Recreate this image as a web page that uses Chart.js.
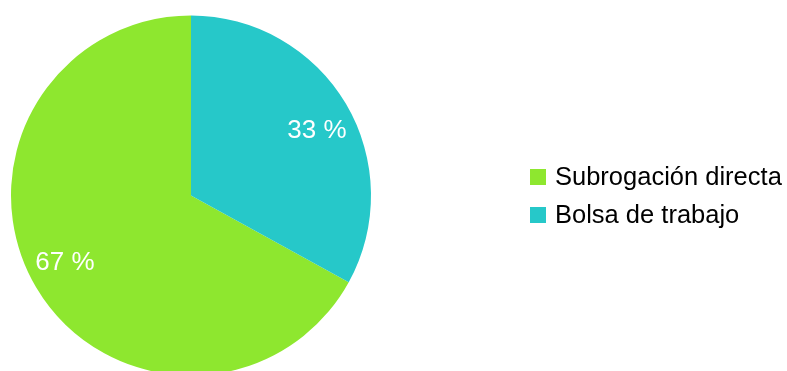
<!DOCTYPE html>
<html>
<head>
<meta charset="utf-8">
<script src="https://cdn.jsdelivr.net/npm/chart.js@4/dist/chart.umd.min.js"></script>
<style>
  html, body { margin: 0; padding: 0; background: #ffffff; overflow: hidden; }
  #wrap { position: relative; width: 787px; height: 371px; }
</style>
</head>
<body>
<div id="wrap"><canvas id="pie"></canvas></div>
<script>
// Share of hires by route (legend order)
const categories = ['Subrogación directa', 'Bolsa de trabajo'];
const shares = [67, 33];
const sliceColors = ['#8ee72f', '#26c8c9'];

const FONT = '"Liberation Sans", Arial, sans-serif';
const total = shares.reduce((a, b) => a + b, 0);

// White percentage labels placed along each slice's mid angle
const sliceLabels = {
  id: 'sliceLabels',
  afterDatasetsDraw(chart) {
    const ctx = chart.ctx;
    const meta = chart.getDatasetMeta(0);
    const data = chart.data.datasets[0].data;
    ctx.save();
    ctx.font = '26px ' + FONT;
    ctx.fillStyle = '#ffffff';
    ctx.textAlign = 'center';
    ctx.textBaseline = 'middle';
    meta.data.forEach((arc, i) => {
      const p = arc.getProps(['x', 'y', 'startAngle', 'endAngle', 'outerRadius'], true);
      const mid = (p.startAngle + p.endAngle) / 2 + 0.052;
      const r = p.outerRadius * 0.79;
      ctx.fillText(data[i] + ' %', p.x + Math.cos(mid) * r, p.y + Math.sin(mid) * r + 1);
    });
    ctx.restore();
  }
};

// Legend drawn to the right of the pie
const sideLegend = {
  id: 'sideLegend',
  afterDraw(chart) {
    const ctx = chart.ctx;
    const labels = chart.data.labels;
    const colors = chart.data.datasets[0].backgroundColor;
    const x0 = 530, box = 16, rowH = 38, top = 177;
    ctx.save();
    ctx.font = '25.5px ' + FONT;
    ctx.textAlign = 'left';
    ctx.textBaseline = 'middle';
    labels.forEach((lab, i) => {
      const cy = top + i * rowH;
      ctx.fillStyle = colors[i];
      ctx.fillRect(x0, cy - box / 2, box, box);
      ctx.fillStyle = '#000000';
      ctx.fillText(lab, x0 + box + 9, cy + 1);
    });
    ctx.restore();
  }
};

new Chart(document.getElementById('pie'), {
  type: 'pie',
  data: {
    labels: categories,
    datasets: [{
      data: shares,
      backgroundColor: sliceColors,
      borderWidth: 0,
      hoverOffset: 0
    }]
  },
  options: {
    responsive: true,
    maintainAspectRatio: false,
    animation: false,
    // first slice ends at 12 o'clock, second one starts there
    rotation: -shares[0] / total * 360,
    radius: 180,
    layout: { padding: { left: 11, right: 416, top: 30, bottom: 10 } },
    plugins: {
      legend: { display: false },
      tooltip: { enabled: false }
    }
  },
  plugins: [sliceLabels, sideLegend]
});
</script>
</body>
</html>
